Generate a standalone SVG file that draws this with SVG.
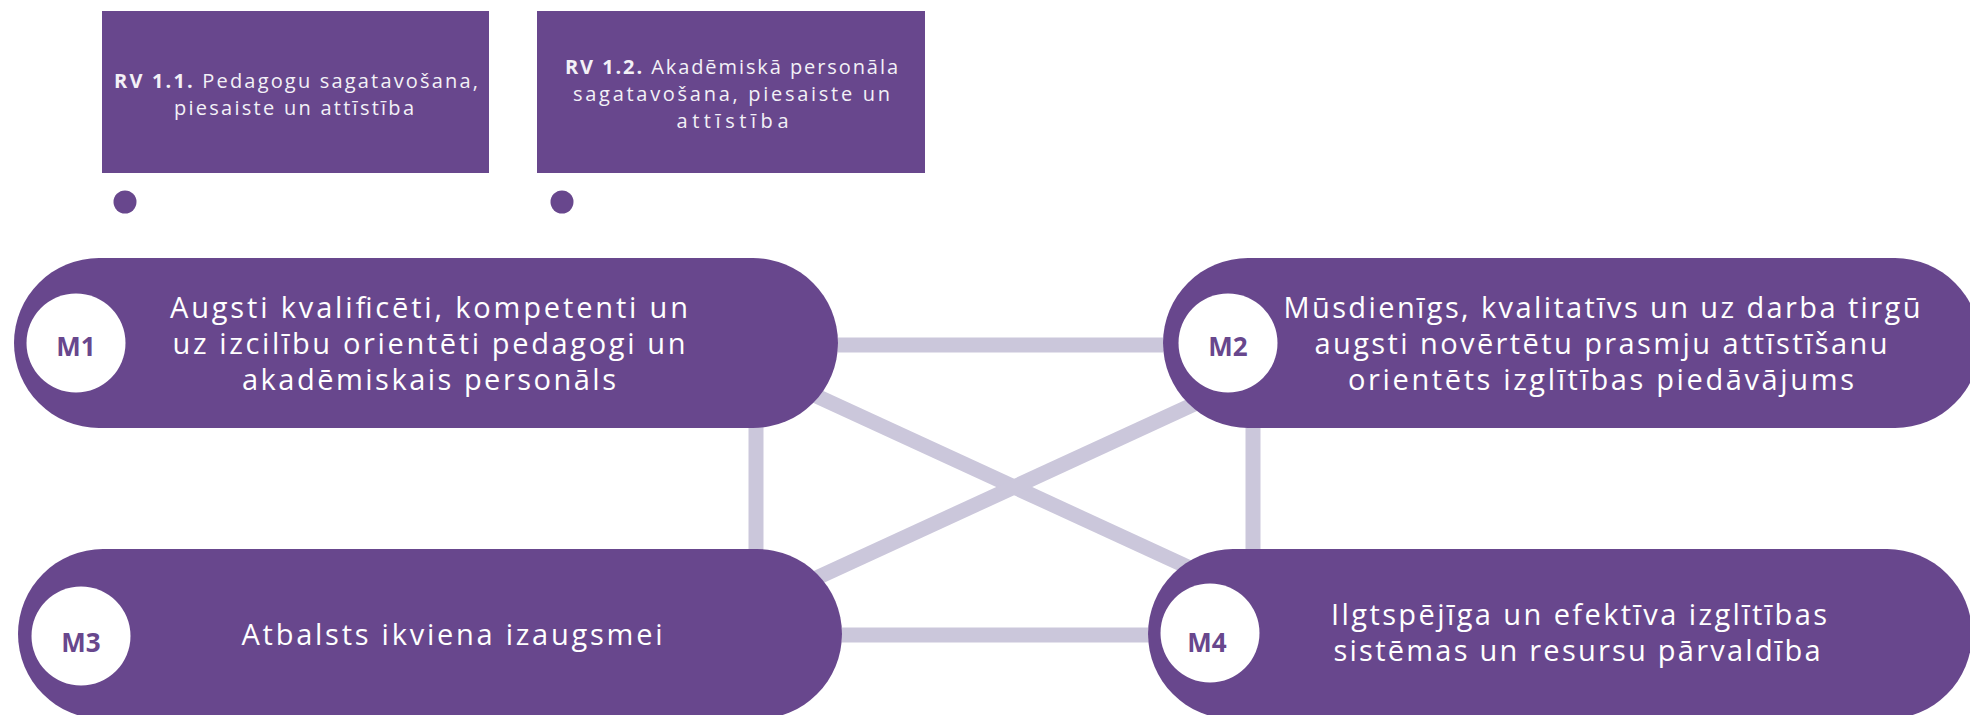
<svg xmlns="http://www.w3.org/2000/svg" width="1970" height="715" viewBox="0 0 1970 715">
<style>
.box{fill:#68478d}
.pill{fill:#68478d}
.badge{fill:#ffffff}
.dot{fill:#68478d}
.conn{stroke:#cbc7db;stroke-width:15;fill:none}
.rv{font-family:"Open Sans","Liberation Sans",sans-serif;font-size:20px;fill:#f3f1f7;text-anchor:middle}
.rv .b{font-weight:700}
.mt{font-family:"Open Sans","Liberation Sans",sans-serif;font-size:29px;fill:#ffffff;text-anchor:middle}
.ml{font-family:"Open Sans","Liberation Sans",sans-serif;font-size:26px;font-weight:700;fill:#68478d;text-anchor:middle}
</style>
<rect width="1970" height="715" fill="#ffffff"/>
<g id="connectors">
<line class="conn" x1="838" y1="345" x2="1163" y2="345"/>
<line class="conn" x1="842" y1="635" x2="1148" y2="635"/>
<line class="conn" x1="756" y1="420" x2="756" y2="555"/>
<line class="conn" x1="1253" y1="420" x2="1253" y2="555"/>
<line class="conn" x1="760" y1="370" x2="1253" y2="597"/>
<line class="conn" x1="760" y1="604" x2="1253" y2="377"/>
</g>
<g id="rv11">
<rect class="box" x="102" y="11" width="387" height="162"/>
<text class="rv" x="296" y="88" textLength="364" lengthAdjust="spacing"><tspan class="b">RV 1.1.</tspan> Pedagogu sagatavošana,</text>
<text class="rv" x="294" y="115" textLength="240" lengthAdjust="spacing">piesaiste un attīstība</text>
</g>
<g id="rv12">
<rect class="box" x="537" y="11" width="388" height="162"/>
<text class="rv" x="731.5" y="74" textLength="333" lengthAdjust="spacing"><tspan class="b">RV 1.2.</tspan> Akadēmiskā personāla</text>
<text class="rv" x="731.5" y="101" textLength="317" lengthAdjust="spacing">sagatavošana, piesaiste un</text>
<text class="rv" x="732.5" y="128" textLength="112" lengthAdjust="spacing">attīstība</text>
</g>
<g id="dot1"><circle class="dot" cx="125" cy="202" r="11.5"/></g>
<g id="dot2"><circle class="dot" cx="562" cy="202" r="11.5"/></g>
<g id="m1">
<rect class="pill" x="14" y="258" width="824" height="170" rx="85" ry="85"/>
<circle class="badge" cx="76" cy="343" r="49.5"/>
<text class="ml" x="76" y="356">M1</text>
<text class="mt" x="429" y="318" textLength="518" lengthAdjust="spacing">Augsti kvalificēti, kompetenti un</text>
<text class="mt" x="429" y="354" textLength="513" lengthAdjust="spacing">uz izcilību orientēti pedagogi un</text>
<text class="mt" x="429" y="390" textLength="374" lengthAdjust="spacing">akadēmiskais personāls</text>
</g>
<g id="m2">
<rect class="pill" x="1163" y="258" width="817" height="170" rx="85" ry="85"/>
<circle class="badge" cx="1228" cy="343" r="49.5"/>
<text class="ml" x="1228" y="356">M2</text>
<text class="mt" x="1602" y="318" textLength="637" lengthAdjust="spacing">Mūsdienīgs, kvalitatīvs un uz darba tirgū</text>
<text class="mt" x="1601" y="354" textLength="573" lengthAdjust="spacing">augsti novērtētu prasmju attīstīšanu</text>
<text class="mt" x="1601" y="390" textLength="506" lengthAdjust="spacing">orientēts izglītības piedāvājums</text>
</g>
<g id="m3">
<rect class="pill" x="18" y="549" width="824" height="170" rx="85" ry="85"/>
<circle class="badge" cx="81" cy="636" r="49.5"/>
<text class="ml" x="81" y="652">M3</text>
<text class="mt" x="452" y="645" textLength="421" lengthAdjust="spacing">Atbalsts ikviena izaugsmei</text>
</g>
<g id="m4">
<rect class="pill" x="1148" y="549" width="824" height="170" rx="85" ry="85"/>
<circle class="badge" cx="1210" cy="633" r="49.5"/>
<text class="ml" x="1207" y="652">M4</text>
<text class="mt" x="1579" y="625" textLength="496" lengthAdjust="spacing">Ilgtspējīga un efektīva izglītības</text>
<text class="mt" x="1577" y="661" textLength="487" lengthAdjust="spacing">sistēmas un resursu pārvaldība</text>
</g>
</svg>
